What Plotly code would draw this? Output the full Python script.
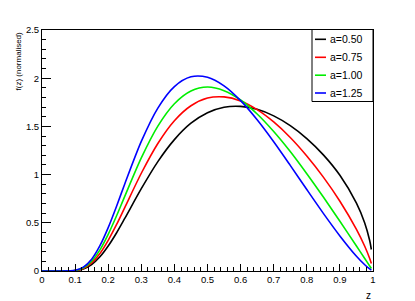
import plotly.graph_objects as go

z = [0.0, 0.05, 0.1, 0.125, 0.15, 0.175, 0.2, 0.225, 0.25, 0.3, 0.35, 0.4, 0.45,
     0.5, 0.55, 0.6, 0.65, 0.7, 0.75, 0.8, 0.85, 0.9, 0.95, 0.975, 0.99, 0.995]

f_a050 = [0, 0, 0.004, 0.022, 0.067, 0.147, 0.259, 0.394, 0.545, 0.854, 1.135, 1.363, 1.533,
          1.642, 1.699, 1.708, 1.677, 1.609, 1.508, 1.374, 1.205, 0.993, 0.705, 0.499, 0.316, 0.223]
f_a075 = [0, 0, 0.005, 0.027, 0.084, 0.182, 0.318, 0.480, 0.658, 1.014, 1.323, 1.559, 1.714,
          1.794, 1.806, 1.764, 1.674, 1.546, 1.385, 1.193, 0.974, 0.724, 0.432, 0.257, 0.130, 0.077]
f_a100 = [0, 0, 0.006, 0.033, 0.102, 0.219, 0.380, 0.570, 0.774, 1.173, 1.503, 1.735, 1.867,
          1.908, 1.871, 1.774, 1.629, 1.447, 1.239, 1.009, 0.767, 0.516, 0.259, 0.130, 0.052, 0.026]
f_a125 = [0, 0, 0.007, 0.040, 0.122, 0.262, 0.450, 0.670, 0.903, 1.344, 1.690, 1.913, 2.014,
          2.009, 1.920, 1.767, 1.569, 1.341, 1.096, 0.845, 0.598, 0.364, 0.153, 0.065, 0.021, 0.009]

labels = ["a=0.50", "a=0.75", "a=1.00", "a=1.25"]
colors = ["#000000", "#ff0000", "#00ee00", "#0000ff"]
series = [f_a050, f_a075, f_a100, f_a125]

x_ticks = [0, 0.1, 0.2, 0.3, 0.4, 0.5, 0.6, 0.7, 0.8, 0.9, 1]
x_ticktext = ["0", "0.1", "0.2", "0.3", "0.4", "0.5", "0.6", "0.7", "0.8", "0.9", "1"]
y_ticks = [0, 0.5, 1, 1.5, 2, 2.5]
y_ticktext = ["0", "0.5", "1", "1.5", "2", "2.5"]

fig = go.Figure()
for lab, col, ys in zip(labels, colors, series):
    fig.add_trace(go.Scatter(x=z, y=ys, mode="lines", name=lab,
                             line=dict(color=col, width=1.6, shape="spline", smoothing=0.8),
                             showlegend=False))

font = "Liberation Sans, Arial, sans-serif"
# page body has an 8px margin, so the figure is drawn 8px in from the window corner
W, H = 407, 293
L, R, T, B = 34, 42, 22, 30
fig.update_layout(
    width=W, height=H,
    margin=dict(l=L, r=R, t=T, b=B),
    paper_bgcolor="white", plot_bgcolor="white",
    font=dict(family=font, size=10, color="black"),
    xaxis=dict(range=[0, 1], tickvals=x_ticks, ticktext=x_ticktext, ticks="inside",
               ticklen=7, tickcolor="black", showline=True, linecolor="black", linewidth=1,
               mirror=True, showgrid=False, zeroline=False,
               minor=dict(dtick=0.02, ticklen=4, tickcolor="black", ticks="inside", showgrid=False),
               tickfont=dict(size=9.5)),
    yaxis=dict(range=[0, 2.5], tickvals=y_ticks, ticktext=y_ticktext, ticks="inside",
               ticklen=9, tickcolor="black", showline=True, linecolor="black", linewidth=1,
               mirror=True, showgrid=False, zeroline=False,
               minor=dict(dtick=0.1, ticklen=4, tickcolor="black", ticks="inside", showgrid=False),
               tickfont=dict(size=9.5)),
)

# axis titles (ROOT style: at the end of the axes)
fig.add_annotation(text="z", xref="paper", yref="paper", x=1, y=0, yshift=-17,
                   xanchor="right", yanchor="top", showarrow=False, font=dict(size=10))
fig.add_annotation(text="f(z) (normalised)", xref="paper", yref="paper", x=0, y=1,
                   xshift=-24, xanchor="center", yanchor="top", textangle=-90,
                   showarrow=False, font=dict(size=8))

# legend box (drawn manually, ROOT TLegend style); positions given in window pixels
def px(x):
    return (x - 8 - L) / (W - L - R)
def py(y):
    return (H - B - (y - 8)) / (H - T - B)
lx0, lx1, ly0, ly1 = 312, 373, 29.5, 101.5
fig.add_shape(type="rect", xref="paper", yref="paper", x0=px(lx0), x1=px(lx1),
              y0=py(ly1), y1=py(ly0), line=dict(color="black", width=1), fillcolor="white")
ys_leg = [39.3, 57.3, 75.2, 93.0]
for lab, col, yy in zip(labels, colors, ys_leg):
    fig.add_shape(type="line", xref="paper", yref="paper", x0=px(315), x1=px(326),
                  y0=py(yy), y1=py(yy), line=dict(color=col, width=1.6))
    fig.add_annotation(text=lab, xref="paper", yref="paper", x=px(327.5), y=py(yy),
                       xanchor="left", yanchor="middle", showarrow=False, font=dict(size=10.5))

fig.write_html("out.html")
